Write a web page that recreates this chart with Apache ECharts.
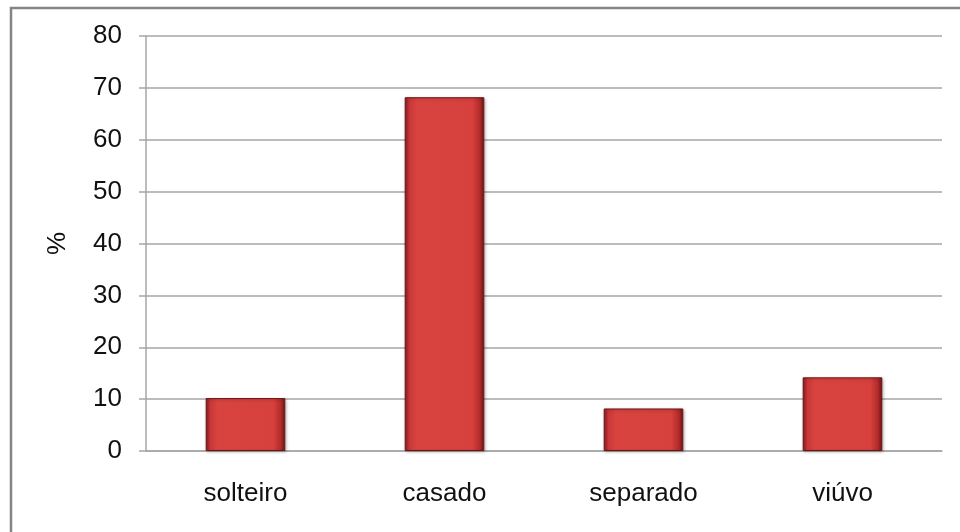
<!DOCTYPE html>
<html>
<head>
<meta charset="utf-8">
<script src="https://cdn.jsdelivr.net/npm/echarts@6/dist/echarts.min.js"></script>
<style>html,body{margin:0;padding:0;background:#fff;}#c{width:960px;height:532px;}</style>
</head>
<body>
<div id="c"></div>
<script>
var categories = ['solteiro', 'casado', 'separado', 'viúvo'];
var values = [10.2, 68.2, 8.2, 14.2];
var yTicks = [0, 10, 20, 30, 40, 50, 60, 70, 80];
var yName = '%';

var chart = echarts.init(document.getElementById('c'), null, {renderer: 'canvas'});
var font = 'Liberation Sans, Arial, sans-serif';
chart.setOption({
  backgroundColor: '#ffffff',
  animation: false,
  graphic: [{
    type: 'rect', left: 8.5, top: 5.5, shape: {width: 1000, height: 1000},
    style: {fill: 'none', stroke: '#858585', lineWidth: 2.5}, silent: true, z: 100
  }],
  grid: {left: 146, right: 18, top: 36, bottom: 81},
  xAxis: {
    type: 'category', data: categories,
    axisLine: {show: true, lineStyle: {color: '#a6a6a6', width: 1.5}},
    axisTick: {show: false},
    axisLabel: {color: '#111111', fontSize: 26, fontFamily: font, margin: 30}
  },
  yAxis: {
    type: 'value', min: yTicks[0], max: yTicks[yTicks.length - 1], interval: 10,
    name: yName, nameLocation: 'middle', nameGap: 75, nameRotate: 90,
    nameTextStyle: {color: '#111111', fontSize: 26, fontFamily: font},
    axisLine: {show: true, lineStyle: {color: '#a6a6a6', width: 1.5}},
    axisTick: {show: true, length: 7, lineStyle: {color: '#a6a6a6', width: 1.5}},
    axisLabel: {color: '#111111', fontSize: 26, fontFamily: font, margin: 24},
    splitLine: {show: true, lineStyle: {color: '#a6a6a6', width: 1.5}}
  },
  series: [{
    type: 'bar', data: values, barWidth: '40%',
    itemStyle: {
      color: {
        type: 'linear', x: 0, y: 0, x2: 1, y2: 0,
        colorStops: [
          {offset: 0, color: '#8e1c1c'},
          {offset: 0.06, color: '#c8373a'},
          {offset: 0.15, color: '#d9433f'},
          {offset: 0.85, color: '#d6403d'},
          {offset: 0.94, color: '#b42c2c'},
          {offset: 1, color: '#6e1414'}
        ]
      },
      borderColor: '#6a1515', borderWidth: 1,
      shadowColor: 'rgba(0,0,0,0.25)', shadowBlur: 3, shadowOffsetX: 1, shadowOffsetY: 1
    }
  }]
});
</script>
</body>
</html>
